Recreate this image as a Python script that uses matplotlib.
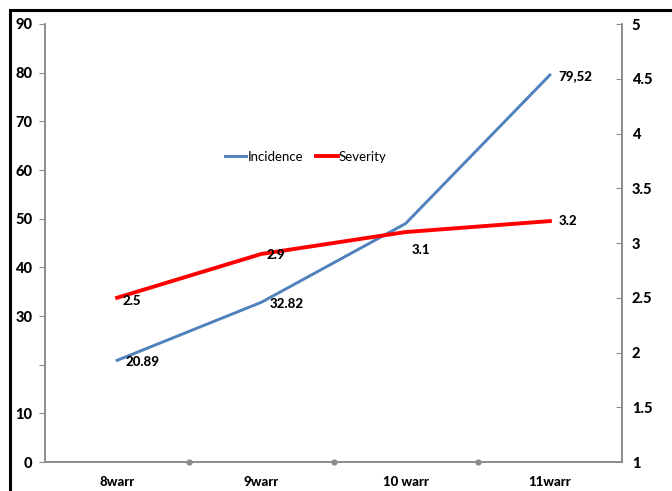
import matplotlib.pyplot as plt
from matplotlib.patches import Rectangle

#Chart data
categories = ['8warr', '9warr', '10 warr', '11warr']
incidence = [20.89, 32.82, 49.0, 79.52]
severity = [2.5, 2.9, 3.1, 3.2]
incidence_labels = ['20.89', '32.82', '', '79,52']
severity_labels = ['2.5', '2.9', '3.1', '3.2']
left_ticks = [0, 10, 20, 30, 40, 50, 60, 70, 80, 90]
left_ticklabels = ['0', '10', '', '30', '40', '50', '60', '70', '80', '90']
right_ticks = [1, 1.5, 2, 2.5, 3, 3.5, 4, 4.5, 5]
right_ticklabels = ['1', '1.5', '2', '2.5', '3', '3.5', '4', '4.5', '5']

plt.rcParams['font.family'] = ['Lato', 'DejaVu Sans']
axis_gray = '#8c8c8c'

fig = plt.figure(figsize=(6.72, 4.91), dpi=100)
ax = fig.add_axes([45/672, 29/491, 577/672, 438/491])
ax2 = ax.twinx()

x = list(range(len(categories)))

#Incidence on the left axis
ax.plot(x, incidence, color='#4F81BD', lw=2.1, solid_joinstyle='round', label='Incidence')
ax.set_ylim(0, 90)
ax.set_xlim(-0.5, 3.5)
ax.set_yticks(left_ticks)
ax.set_yticklabels(left_ticklabels, fontweight='black', fontsize=10.5)
ax.set_xticks(x)
ax.set_xticklabels(categories, fontweight='black', fontsize=9.5)
ax.tick_params(axis='x', length=0, pad=10)
ax.tick_params(axis='y', direction='out', length=4, color=axis_gray, pad=5)
# divider dots on the category axis
ax.plot([0.5, 1.5, 2.5], [0, 0, 0], 'o', color=axis_gray, ms=3.5, clip_on=False, zorder=5)

#Severity on the right axis
ax2.plot(x, severity, color='#FF0000', lw=2.8, solid_joinstyle='round', label='Severity')
ax2.set_ylim(1, 5)
ax2.set_yticks(right_ticks)
ax2.set_yticklabels(right_ticklabels, fontweight='black', fontsize=10.5)
ax2.tick_params(axis='y', direction='in', length=4, color=axis_gray, pad=7)

for a in (ax, ax2):
    a.spines['top'].set_visible(False)
    for s in ('left', 'right', 'bottom'):
        a.spines[s].set_color(axis_gray)
        a.spines[s].set_linewidth(1.2)

#Data labels
for i, lab in enumerate(incidence_labels):
    if lab:
        ax.annotate(lab, (x[i], incidence[i]), xytext=(6, -1), textcoords='offset points',
                    ha='left', va='center', fontweight='black', fontsize=9.5)
sev_offsets = [(4, -2), (4, -1), (4, -13), (6, 0)]
for i, lab in enumerate(severity_labels):
    ax2.annotate(lab, (x[i], severity[i]), xytext=sev_offsets[i], textcoords='offset points',
                 ha='left', va='center', fontweight='black', fontsize=9.5)

#Legend in the middle of the plot
h1, l1 = ax.get_legend_handles_labels()
h2, l2 = ax2.get_legend_handles_labels()
ax2.legend(h1 + h2, l1 + l2, loc='center', bbox_to_anchor=(306/672, 334/491),
           bbox_transform=fig.transFigure, ncol=2, frameon=False, fontsize=9.5,
           handlelength=1.6, handletextpad=0.1, columnspacing=1.0)

#Chart frame
fig.patches.append(Rectangle((10/672, -0.05), 1.0, 1 - 10/491 + 0.05, transform=fig.transFigure,
                             fill=False, edgecolor='black', lw=2.2, clip_on=False))

fig.savefig('out.png', dpi=100)
